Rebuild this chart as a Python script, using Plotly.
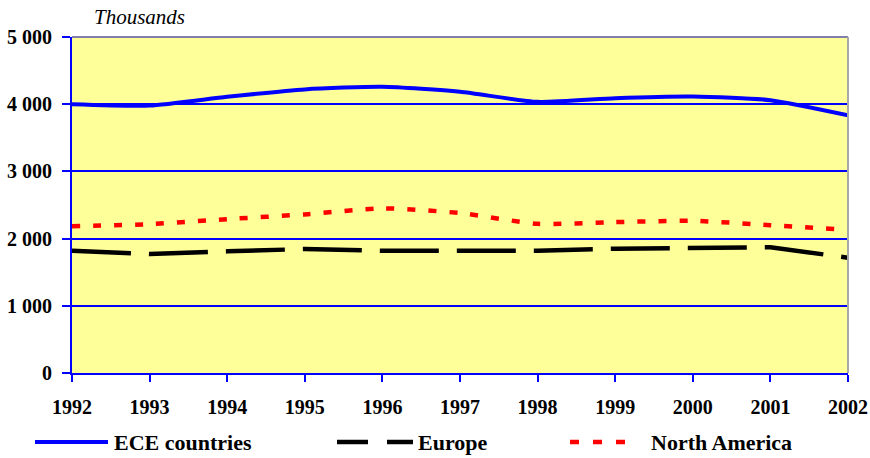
import plotly.graph_objects as go

years = [1992, 1993, 1994, 1995, 1996, 1997, 1998, 1999, 2000, 2001, 2002]
ece = [4000, 3980, 4110, 4220, 4260, 4185, 4035, 4090, 4115, 4060, 3835]
europe = [1820, 1770, 1810, 1845, 1820, 1815, 1820, 1850, 1856, 1872, 1715]
north_america = [2185, 2215, 2290, 2360, 2450, 2380, 2220, 2245, 2265, 2200, 2130]
y_ticks = [0, 1000, 2000, 3000, 4000, 5000]
y_tick_labels = ["0", "1 000", "2 000", "3 000", "4 000", "5 000"]
series_names = ["ECE countries", "Europe", "North America"]

font_family = "Times New Roman, Times, Liberation Serif, Tinos, DejaVu Serif, serif"

# plot area in pixels
L, R, T, B = 72, 848, 37, 373
def px(x):
    return (x - L) / (R - L)
def py(y):
    return (B - y) / (B - T)

fig = go.Figure()
fig.add_trace(go.Scatter(x=years, y=ece, name=series_names[0], mode="lines",
                         line=dict(color="#0000FF", width=4, shape="spline", smoothing=0.6)))
fig.add_trace(go.Scatter(x=years, y=europe, name=series_names[1], mode="lines",
                         line=dict(color="#000000", width=4.5, dash="59px,18px")))
fig.add_trace(go.Scatter(x=years, y=north_america, name=series_names[2], mode="lines",
                         line=dict(color="#FF0000", width=4.5, dash="8px,13px", shape="spline", smoothing=0.6)))

leg_y = py(442)
shapes = [
    dict(type="line", xref="paper", yref="paper", x0=0, x1=1, y0=1, y1=1,
         line=dict(color="#8080A8", width=2), layer="above"),
    dict(type="line", xref="paper", yref="paper", x0=1, x1=1, y0=0, y1=1,
         line=dict(color="#A8A8A8", width=2), layer="above"),
    # legend symbols
    dict(type="line", xref="paper", yref="paper", x0=px(35), x1=px(108), y0=leg_y, y1=leg_y,
         line=dict(color="#0000FF", width=4)),
    dict(type="line", xref="paper", yref="paper", x0=px(337), x1=px(368), y0=leg_y, y1=leg_y,
         line=dict(color="#000000", width=4.5)),
    dict(type="line", xref="paper", yref="paper", x0=px(387), x1=px(413), y0=leg_y, y1=leg_y,
         line=dict(color="#000000", width=4.5)),
    dict(type="line", xref="paper", yref="paper", x0=px(570), x1=px(634), y0=leg_y, y1=leg_y,
         line=dict(color="#FF0000", width=4.5, dash="9px,14px")),
]

annotations = [
    dict(text="<i>Thousands</i>", xref="paper", yref="paper", x=px(92), y=py(17),
         xanchor="left", yanchor="middle", showarrow=False,
         font=dict(family=font_family, size=21, color="#000000")),
]
for name, xstart in zip(series_names, [112, 416, 649]):
    annotations.append(dict(text=f"<b>{name}</b>", xref="paper", yref="paper",
                            x=px(xstart), y=leg_y, xanchor="left", yanchor="middle",
                            showarrow=False,
                            font=dict(family=font_family, size=22, color="#000000")))

fig.update_layout(
    width=870, height=458,
    margin=dict(l=L, r=870 - R, t=T, b=458 - B),
    paper_bgcolor="#FFFFFF",
    plot_bgcolor="#FFFF99",
    showlegend=False,
    font=dict(family=font_family),
    xaxis=dict(range=[1992, 2002], tickvals=years, ticktext=[f"<b>{y}</b>" for y in years],
               showgrid=False, zeroline=False, showline=True, linecolor="#0000FF", linewidth=2,
               ticks="outside", ticklen=7, tickcolor="#0000FF", tickwidth=1.5,
               ticklabelstandoff=8, automargin=False,
               tickfont=dict(family=font_family, size=20, color="#000000"),
               fixedrange=True),
    yaxis=dict(range=[0, 5000], tickvals=y_ticks, ticktext=[f"<b>{t}</b>" for t in y_tick_labels],
               showgrid=True, gridcolor="#0000FF", gridwidth=2, zeroline=False,
               showline=True, linecolor="#0000FF", linewidth=2,
               ticks="outside", ticklen=8, tickcolor="#0000FF", tickwidth=1.5,
               ticklabelstandoff=6, automargin=False,
               tickfont=dict(family=font_family, size=20, color="#000000"),
               fixedrange=True),
    shapes=shapes,
    annotations=annotations,
)

fig.write_html("out.html", config={"displayModeBar": False},
               post_script="document.body.style.margin='0';document.body.style.overflow='hidden';")
